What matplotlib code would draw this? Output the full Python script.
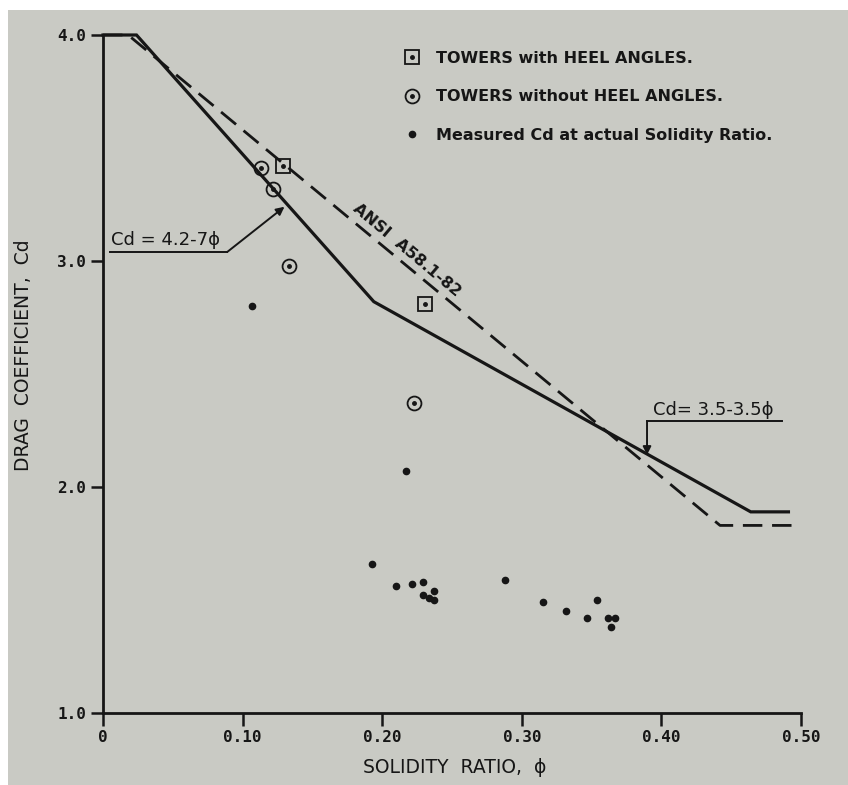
import numpy as np
import matplotlib.pyplot as plt
from matplotlib.patches import Rectangle
from matplotlib.lines import Line2D

# --- data ------------------------------------------------------------------
# design curve (solid): Cd = 4.2-7phi, then Cd = 3.5-3.5phi
design_phi = [0.0, 0.024, 0.194, 0.464, 0.491]
design_cd = [4.0, 4.0, 2.82, 1.89, 1.89]

# ANSI A58.1-82 (dashed)
ansi_phi = [0.0, 0.018, 0.442, 0.496]
ansi_cd = [4.0, 4.0, 1.83, 1.83]

# towers with heel angles (boxed dot)
heel_phi = [0.129, 0.231]
heel_cd = [3.42, 2.81]

# towers without heel angles (circled dot)
noheel_phi = [0.113, 0.122, 0.133, 0.223]
noheel_cd = [3.41, 3.32, 2.98, 2.37]

# measured Cd at actual solidity ratio
meas_phi = [0.107, 0.217, 0.193, 0.210, 0.221, 0.229, 0.229, 0.2335, 0.237, 0.237,
            0.288, 0.315, 0.332, 0.347, 0.354, 0.362, 0.367, 0.364]
meas_cd = [2.80, 2.07, 1.66, 1.56, 1.57, 1.58, 1.52, 1.51, 1.54, 1.50,
           1.59, 1.49, 1.45, 1.42, 1.50, 1.42, 1.42, 1.38]

xticks = [0.0, 0.1, 0.2, 0.3, 0.4, 0.5]
xticklabels = ['0', '0.10', '0.20', '0.30', '0.40', '0.50']
yticks = [1.0, 2.0, 3.0, 4.0]
yticklabels = ['1.0', '2.0', '3.0', '4.0']

ink = '#161616'
paper = '#c9cac4'

fig = plt.figure(figsize=(8.48, 7.85), dpi=100, facecolor='white')
fig.patches.append(Rectangle((8 / 848, 0), 1, 1 - 10 / 785, transform=fig.transFigure,
                             facecolor=paper, edgecolor='none', zorder=-10))

ax = fig.add_axes([103 / 848, 1 - 713 / 785, 698 / 848, 678 / 785])
ax.set_facecolor('none')
ax.set_xlim(0, 0.5)
ax.set_ylim(1.0, 4.0)

for side in ['top', 'right']:
    ax.spines[side].set_visible(False)
for side in ['left', 'bottom']:
    ax.spines[side].set_linewidth(2.0)
    ax.spines[side].set_color(ink)

ax.set_xticks(xticks)
ax.set_xticklabels(xticklabels)
ax.set_yticks(yticks)
ax.set_yticklabels(yticklabels)
ax.tick_params(axis='both', direction='out', length=9, width=1.8, color=ink,
               labelcolor=ink, pad=3)
for lab in ax.get_xticklabels() + ax.get_yticklabels():
    lab.set_family('DejaVu Sans Mono')
    lab.set_weight('bold')
    lab.set_fontsize(11.5)

# curves
ax.plot(design_phi, design_cd, color=ink, lw=2.3, solid_joinstyle='miter', clip_on=False)
ax.plot(ansi_phi, ansi_cd, color=ink, lw=2.0, linestyle=(0, (7, 3.5)), clip_on=False)

# markers
ax.plot(heel_phi, heel_cd, linestyle='none', marker='s', ms=9.5, mfc='none', mec=ink, mew=1.3)
ax.plot(heel_phi, heel_cd, linestyle='none', marker='o', ms=2.5, color=ink)
ax.plot(noheel_phi, noheel_cd, linestyle='none', marker='o', ms=10, mfc='none', mec=ink, mew=1.3)
ax.plot(noheel_phi, noheel_cd, linestyle='none', marker='o', ms=2.5, color=ink)
ax.plot(meas_phi, meas_cd, linestyle='none', marker='o', ms=4.5, color=ink)

# annotation: Cd = 4.2-7phi
ax.plot([0.005, 0.089], [3.04, 3.04], color=ink, lw=1.4)
ax.annotate('', xy=(0.130, 3.24), xytext=(0.089, 3.04),
            arrowprops=dict(arrowstyle='-|>', color=ink, lw=1.4, mutation_scale=12,
                            shrinkA=0, shrinkB=0))
ax.text(0.006, 3.052, 'Cd = 4.2-7\u03d5', fontsize=13, color=ink, ha='left', va='bottom')

# annotation: Cd = 3.5-3.5phi
ax.plot([0.3897, 0.4865], [2.292, 2.292], color=ink, lw=1.4)
ax.annotate('', xy=(0.3897, 2.142), xytext=(0.3897, 2.292),
            arrowprops=dict(arrowstyle='-|>', color=ink, lw=1.4, mutation_scale=12,
                            shrinkA=0, shrinkB=0))
ax.text(0.394, 2.302, 'Cd= 3.5-3.5\u03d5', fontsize=13, color=ink, ha='left', va='bottom')

# ANSI label along the dashed line
ax.text(0.2178, 3.049, 'ANSI  A58.1-82', fontsize=11.5, weight='semibold', color=ink,
        rotation=-40, ha='center', va='center', rotation_mode='anchor')

# legend
h_heel = (Line2D([], [], linestyle='none', marker='s', ms=9.5, mfc='none', mec=ink, mew=1.3),
          Line2D([], [], linestyle='none', marker='o', ms=2.5, color=ink))
h_noheel = (Line2D([], [], linestyle='none', marker='o', ms=10, mfc='none', mec=ink, mew=1.3),
            Line2D([], [], linestyle='none', marker='o', ms=2.5, color=ink))
h_meas = Line2D([], [], linestyle='none', marker='o', ms=4.5, color=ink)
leg = fig.legend([h_heel, h_noheel, h_meas],
                 ['TOWERS with HEEL ANGLES.', 'TOWERS without HEEL ANGLES.',
                  'Measured Cd at actual Solidity Ratio.'],
                 loc='upper left', bbox_to_anchor=(404 / 848, 1 - 51 / 785),
                 frameon=False, handlelength=1.0, handletextpad=1.0, borderpad=0,
                 borderaxespad=0, labelspacing=1.47, prop={'size': 11.5, 'weight': 'semibold'})
for t in leg.get_texts():
    t.set_color(ink)

ax.set_ylabel('DRAG  COEFFICIENT,  Cd', fontsize=13.5, weight='medium', color=ink, labelpad=0)
ax.yaxis.set_label_coords(-70 / 698, (713 - 355) / 678)
ax.set_xlabel('SOLIDITY  RATIO,  \u03d5', fontsize=13.5, weight='medium', color=ink)
ax.xaxis.set_label_coords((455 - 103) / 698, -(758 - 713) / 678)

fig.savefig('out.png', dpi=100, facecolor=fig.get_facecolor())
